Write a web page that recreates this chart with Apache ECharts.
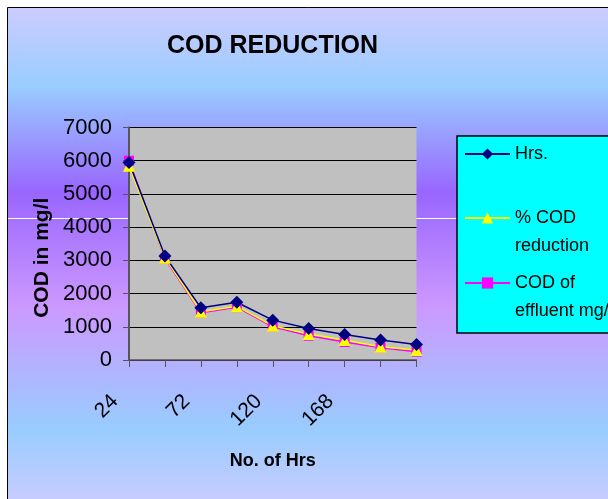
<!DOCTYPE html>
<html>
<head>
<meta charset="utf-8">
<script src="https://cdn.jsdelivr.net/npm/echarts@6/dist/echarts.min.js"></script>
<style>
  html, body { margin: 0; padding: 0; background: #fff; }
  #chart { width: 608px; height: 499px; }
</style>
</head>
<body>
<div id="chart"></div>
<script>
// data
const categories = ["24", "48", "72", "96", "120", "144", "168", "192", "216"];
const shownLabels = ["24", "72", "120", "168"];
const hrs = [5950, 3130, 1570, 1740, 1200, 950, 770, 600, 470];
const codReduction = [5850, 3080, 1450, 1620, 1030, 780, 600, 400, 300];
const codEffluent = [6000, 3050, 1420, 1590, 1000, 730, 540, 370, 250];
const yTicks = [0, 1000, 2000, 3000, 4000, 5000, 6000, 7000];

const font = "'Liberation Sans', Arial, sans-serif";

let chart = echarts.init(document.getElementById("chart"));

// a blank first line keeps the marker level with the first text line
function legendAt(name, top) {
  return {
    data: [name],
    orient: "vertical",
    left: 459,
    top: top,
    itemWidth: 45,
    itemHeight: 14,
    itemGap: 0,
    formatter: function (n) {
      if (n === "% COD reduction") return " \n% COD\nreduction";
      if (n === "COD of effluent mg/l") return " \nCOD of\neffluent mg/l";
      return n;
    },
    textStyle: {
      fontFamily: font,
      fontSize: 18,
      lineHeight: 28,
      color: "#000"
    }
  };
}

chart.setOption({
  backgroundColor: "#fff",
  animation: false,
  graphic: [
    {
      type: "rect",
      z: -20,
      shape: { x: 7.5, y: 7.5, width: 640, height: 500 },
      style: {
        stroke: "#000",
        lineWidth: 1,
        fill: new echarts.graphic.LinearGradient(0, 0, 0, 1, [
          { offset: 0, color: "#ccccff" },
          { offset: 0.16, color: "#99ccff" },
          { offset: 0.37, color: "#9966ff" },
          { offset: 0.6, color: "#cc99ff" },
          { offset: 0.84, color: "#99ccff" },
          { offset: 1, color: "#ccccff" }
        ])
      }
    },
    {
      type: "line",
      z: -19,
      shape: { x1: 8, y1: 218.5, x2: 457, y2: 218.5 },
      style: { stroke: "#fff", lineWidth: 1 }
    },
    {
      type: "rect",
      z: 3,
      shape: { x: 457, y: 136, width: 200, height: 197 },
      style: { fill: "#00ffff", stroke: "#000", lineWidth: 1.5 }
    }
  ],
  title: {
    text: "COD REDUCTION",
    left: 162,
    top: 29,
    textStyle: {
      fontFamily: font,
      fontSize: 25,
      fontWeight: "bold",
      color: "#000"
    }
  },
  legend: [
    legendAt("Hrs.", 135),
    legendAt("% COD reduction", 171),
    legendAt("COD of effluent mg/l", 236)
  ],
  grid: {
    left: 129,
    right: 191.5,
    top: 127.5,
    bottom: 139,
    show: true,
    backgroundColor: "#c0c0c0",
    borderWidth: 0
  },
  xAxis: {
    type: "category",
    data: categories,
    boundaryGap: false,
    name: "No. of Hrs",
    nameLocation: "middle",
    nameGap: 92,
    nameTextStyle: {
      fontFamily: font,
      fontSize: 18,
      fontWeight: "bold",
      color: "#000"
    },
    axisLine: { lineStyle: { color: "#555", width: 1.5 } },
    axisTick: {
      alignWithLabel: true,
      interval: 0,
      length: 7,
      lineStyle: { color: "#555", width: 1 }
    },
    axisLabel: {
      interval: 0,
      rotate: 45,
      margin: 24,
      padding: [0, 20, 0, 0],
      fontFamily: font,
      fontSize: 21,
      color: "#000",
      formatter: function (v) {
        return shownLabels.indexOf(v) >= 0 ? v : "";
      }
    },
    splitLine: { show: false }
  },
  yAxis: {
    type: "value",
    min: yTicks[0],
    max: yTicks[yTicks.length - 1],
    interval: 1000,
    name: "COD in mg/l",
    nameLocation: "middle",
    nameGap: 76,
    nameTextStyle: {
      fontFamily: font,
      fontSize: 21,
      fontWeight: "bold",
      color: "#000",
      padding: [0, 28, 0, 0]
    },
    axisLine: { show: true, lineStyle: { color: "#555", width: 2 } },
    axisTick: { show: true, length: 6, lineStyle: { color: "#555", width: 1 } },
    axisLabel: {
      margin: 17,
      fontFamily: font,
      fontSize: 22,
      color: "#000",
      formatter: function (v) {
        return String(v);
      }
    },
    splitLine: { lineStyle: { color: "#000", width: 1 } }
  },
  series: [
    {
      name: "COD of effluent mg/l",
      type: "line",
      data: codEffluent,
      symbol: "rect",
      symbolSize: 10,
      color: "#ff00ff",
      lineStyle: { color: "#ff00ff", width: 1.5 },
      itemStyle: { color: "#ff00ff" }
    },
    {
      name: "% COD reduction",
      type: "line",
      data: codReduction,
      symbol: "triangle",
      symbolSize: 12,
      color: "#ffff00",
      lineStyle: { color: "#ffff00", width: 1.5 },
      itemStyle: { color: "#ffff00" }
    },
    {
      name: "Hrs.",
      type: "line",
      data: hrs,
      symbol: "diamond",
      symbolSize: 13,
      color: "#000080",
      lineStyle: { color: "#000080", width: 1.5 },
      itemStyle: { color: "#000080" }
    }
  ]
});

window.addEventListener("resize", function () {
  chart.resize();
});
</script>
</body>
</html>
